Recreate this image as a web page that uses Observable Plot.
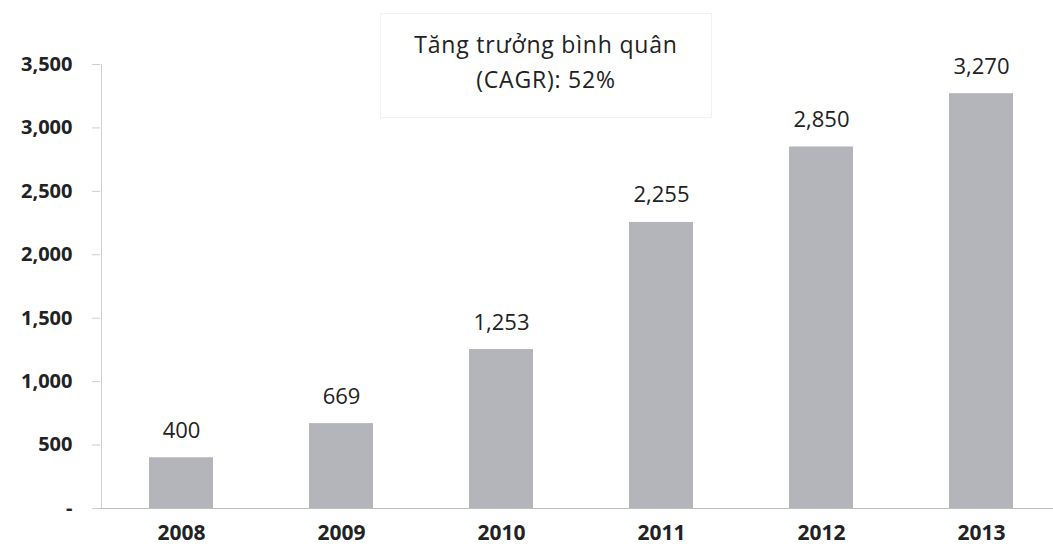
<!DOCTYPE html>
<html>
<head>
<meta charset="utf-8">
<script src="https://cdn.jsdelivr.net/npm/d3@7"></script>
<script src="https://cdn.jsdelivr.net/npm/@observablehq/plot@0.6"></script>
<style>
  html, body { margin: 0; padding: 0; background: #fff; }
  #wrap { position: relative; width: 1053px; height: 550px; overflow: hidden; }
  #title {
    position: absolute; left: 380px; top: 13px; width: 332px; height: 105px;
    box-sizing: border-box; border: 1px solid #f2f2f2; background: #fff;
    font-family: "Open Sans", sans-serif; font-size: 23px; letter-spacing: 0.8px; color: #222;
    text-align: center; line-height: 35px; padding-top: 13px;
  }
</style>
</head>
<body>
<div id="wrap"><div id="chart"></div><div id="title">Tăng trưởng bình quân<br>(CAGR): 52%</div></div>
<script>
const years = ["2008", "2009", "2010", "2011", "2012", "2013"];
const values = [400, 669, 1253, 2255, 2850, 3270];
const valueLabels = ["400", "669", "1,253", "2,255", "2,850", "3,270"];
const yTicks = [0, 500, 1000, 1500, 2000, 2500, 3000, 3500];

const data = years.map((y, i) => ({year: y, value: values[i], label: valueLabels[i]}));
const fmt = v => v === 0 ? "-" : d3.format(",")(v);

const chart = Plot.plot({
  width: 1053,
  height: 550,
  marginTop: 64,
  marginBottom: 42,
  marginLeft: 100,
  marginRight: 0,
  style: {fontFamily: "Open Sans, sans-serif", background: "#fff", overflow: "hidden"},
  x: {domain: years, range: [100, 1061], paddingInner: 0.6, paddingOuter: 0.3, axis: null},
  y: {domain: [0, 3500], axis: null},
  marks: [
    // y axis line and small ticks
    Plot.ruleX([years[0]], {x: d => d, y1: 0, y2: 3500, dx: -80, stroke: "#cfcfcf"}),
    Plot.axisY(yTicks, {tickSize: 8, text: null, label: null, stroke: "#cfcfcf"}),
    // y tick labels
    Plot.axisY(yTicks, {tickSize: 0, tickPadding: 28, label: null, tickFormat: fmt, fontSize: 20, fontWeight: "bold", fill: "#222", letterSpacing: 1}),
    // bars
    Plot.barY(data, {x: "year", y: "value", fill: "#b4b4bb"}),
    // baseline
    Plot.ruleY([0], {stroke: "#bdbdbd"}),
    // value labels
    Plot.text(data, {x: "year", y: "value", text: "label", dy: -27, fontSize: 22, fill: "#222"}),
    // x labels
    Plot.text(years, {x: d => d, frameAnchor: "bottom", dy: 31, text: d => d, fontSize: 21, fontWeight: "bold", fill: "#222"})
  ]
});

document.getElementById("chart").appendChild(chart);
</script>
</body>
</html>
